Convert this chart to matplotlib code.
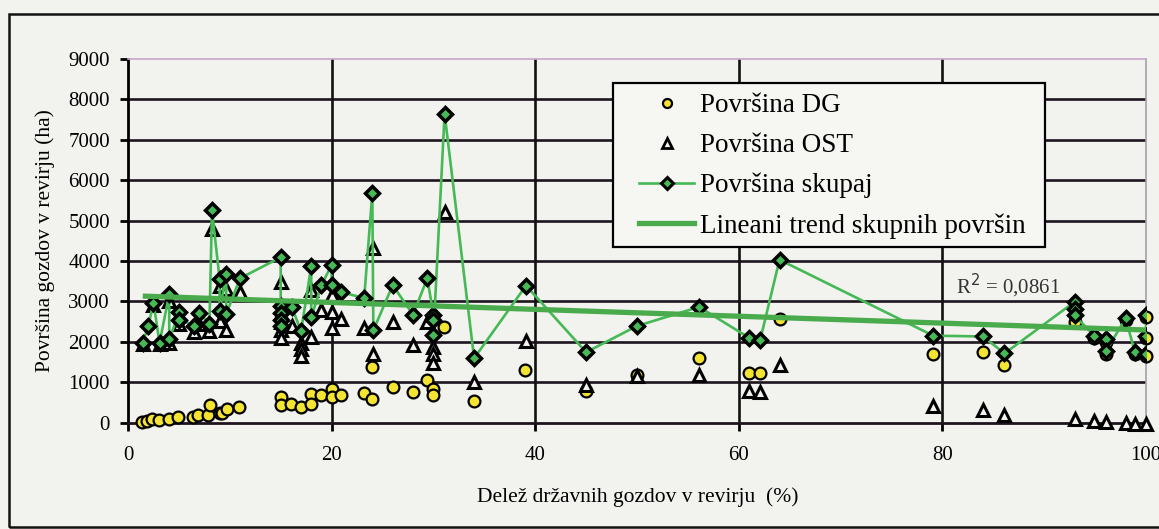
import matplotlib

matplotlib.use("Agg")
import matplotlib.pyplot as plt
from matplotlib.lines import Line2D
from matplotlib.patches import Rectangle

plt.rcParams["font.family"] = ["Liberation Serif", "DejaVu Serif"]

# Delež državnih gozdov (%) / površina skupaj (ha)
skup_x = [1.45, 2.0, 2.5, 3.1, 4.05, 4.05, 5.05, 5.05, 6.5, 7.0, 8.0, 8.25, 9.0, 9.0,
          9.65, 9.65, 11.0, 15.0, 15.0, 15.0, 15.0, 15.0, 16.1, 17.0, 18.0, 18.0, 19.0,
          20.0, 20.0, 20.9, 23.2, 24.0, 24.1, 26.0, 28.0, 29.4, 30.0, 30.0, 30.0, 31.1,
          34.0, 39.1, 45.0, 50.0, 56.1, 61.0, 62.1, 64.0, 79.1, 84.0, 86.1, 93.0, 93.0,
          93.0, 94.9, 96.1, 96.1, 98.0, 98.9, 100.0, 100.0, 100.0]
skup_y = [1975, 2390, 2970, 1975, 3175, 2060, 2730, 2550, 2390, 2720, 2430, 5250, 3550, 2760,
          3675, 2680, 3570, 4090, 2890, 2720, 2550, 2390, 2850, 2260, 3870, 2600, 3400,
          3900, 3400, 3230, 3080, 5680, 2280, 3400, 2670, 3570, 2670, 2530, 2160, 7640,
          1590, 3390, 1740, 2390, 2860, 2100, 2040, 4030, 2150, 2130, 1710, 2990, 2800,
          2650, 2150, 2070, 1780, 2580, 1750, 1690, 2150, 2650]

# Površina DG (ha)
dg_x = [1.35, 1.85, 2.4, 3.0, 4.0, 4.95, 6.4, 6.9, 7.9, 8.1, 9.0, 9.2, 9.7, 10.9,
        15.0, 15.0, 16.0, 17.0, 18.0, 18.0, 19.0, 20.0, 20.0, 20.9, 23.2, 24.0, 24.0,
        26.0, 28.0, 29.4, 30.0, 30.0, 31.0, 34.0, 39.0, 45.0, 50.0, 56.1, 61.0, 62.1,
        64.0, 79.1, 84.0, 86.1, 93.0, 93.0, 94.9, 96.1, 96.1, 98.0, 98.9, 100.0, 100.0,
        100.0]
dg_y = [20, 40, 75, 60, 75, 140, 140, 180, 180, 430, 240, 230, 330, 390,
        640, 430, 470, 380, 700, 460, 670, 830, 625, 690, 730, 1370, 580,
        870, 750, 1060, 840, 670, 2360, 540, 1300, 770, 1180, 1600, 1220, 1220,
        2570, 1700, 1750, 1420, 2500, 2650, 2100, 2000, 1700, 2550, 1700, 2600, 2100,
        1650]

# Površina OST (ha)
ost_x = [1.45, 2.5, 3.1, 4.05, 4.05, 5.05, 6.5, 7.0, 8.0, 8.25, 9.0, 9.65, 9.0, 9.65,
         11.0, 15.0, 15.0, 15.0, 15.0, 15.0, 16.1, 17.0, 17.0, 17.0, 18.0, 18.0, 19.0,
         20.0, 20.0, 20.0, 20.9, 23.2, 24.1, 24.1, 26.0, 28.0, 29.4, 30.0, 30.0, 30.0,
         31.1, 34.0, 39.1, 45.0, 50.0, 56.1, 61.0, 62.1, 64.0, 79.1, 84.0, 86.1, 93.0,
         94.9, 96.1, 98.0, 98.9, 100.0]
ost_y = [1950, 2900, 1950, 3000, 1975, 2450, 2240, 2450, 2270, 4800, 3380, 3300, 2520, 2300,
         3220, 3470, 2700, 2500, 2300, 2100, 2400, 1975, 1810, 1640, 3270, 2120, 2780,
         3150, 2740, 2350, 2570, 2350, 4310, 1700, 2490, 1910, 2490, 1870, 1700, 1480,
         5220, 1000, 2030, 930, 1140, 1180, 780, 750, 1420, 400, 300, 190, 80,
         30, 20, -20, -30, -40]

# linearni trend (odčitano s slike)
trend_x = [1.45, 100.0]
trend_y = [3130, 2290]

GREEN = "#45b955"
TREND = "#4aab4c"
YELLOW = "#f3e332"
BG = "#f2f2ef"

fig = plt.figure(figsize=(11.59, 5.29), dpi=100, facecolor=BG)
ax = fig.add_axes([128 / 1159, 1 - 422.5 / 529, 1018 / 1159, 363.5 / 529], facecolor=BG)

ax.set_xlim(0, 100)
ax.set_ylim(0, 9000)
ax.set_yticks(range(0, 9001, 1000))
ax.set_xticks(range(0, 101, 20))

for v in range(1000, 9000, 1000):
    ax.axhline(v, color="#1e141e", lw=1.9, zorder=1)
for v in range(20, 100, 20):
    ax.axvline(v, color="#111111", lw=1.9, zorder=1)

ax.spines["left"].set_linewidth(2.0)
ax.spines["bottom"].set_linewidth(2.0)
ax.spines["bottom"].set_color("#1e141e")
ax.spines["top"].set_color("#c9a6c6")
ax.spines["top"].set_linewidth(1.2)
ax.spines["right"].set_color("#a4a0aa")
ax.spines["right"].set_linewidth(1.2)

ax.tick_params(axis="y", direction="out", length=6, width=2, pad=7, labelsize=15)
ax.tick_params(axis="x", direction="out", length=6, width=2, pad=11, labelsize=15)

ax.plot(dg_x, dg_y, "o", ms=8.5, mfc=YELLOW, mec="black", mew=1.6, zorder=3, clip_on=False)
ax.plot(ost_x, ost_y, "^", ms=8, mfc="#f4f4f0", mec="black", mew=2.2, zorder=4, clip_on=False)
ax.plot(skup_x, skup_y, "-D", color=GREEN, lw=1.9, ms=7.5, mfc=GREEN, mec="black", mew=2.5,
        zorder=5)
ax.plot(trend_x, trend_y, "-", color=TREND, lw=3.8, zorder=6, solid_capstyle="butt")

ax.text(81.3, 3200, "R$^2$ = 0,0861", fontsize=15, color="#333333", va="baseline", zorder=7)

ax.set_ylabel("Površina gozdov v revirju (ha)", fontsize=15.5)
ax.yaxis.set_label_coords((55 - 128) / 1018, 0.5)
fig.text(638 / 1159, 1 - 497 / 529, "Delež državnih gozdov v revirju  (%)", fontsize=15.5,
         ha="center", va="center")

# okvir legende
ax.add_patch(Rectangle((0.4764, 0.4828), 0.4244, 0.4512, transform=ax.transAxes,
                       facecolor="#f6f6f3", edgecolor="black", lw=1.6, zorder=8))
handles = [
    Line2D([], [], ls="none", marker="o", ms=6.5, mfc=YELLOW, mec="black", mew=1.6),
    Line2D([], [], ls="none", marker="^", ms=6.5, mfc="#f4f4f0", mec="black", mew=2.0),
    Line2D([], [], color=GREEN, lw=1.9, marker="D", ms=6, mfc=GREEN, mec="black", mew=2.2),
    Line2D([], [], color=TREND, lw=3.8),
]
labels = ["Površina DG", "Površina OST", "Površina skupaj", "Lineani trend skupnih površin"]
leg = ax.legend(handles, labels, loc="upper left", bbox_to_anchor=(0.502, 0.906),
                frameon=False, fontsize=19.5, handlelength=2.04, handletextpad=0.22,
                labelspacing=0.55, borderpad=0, borderaxespad=0)
leg.set_zorder(9)

# zunanji okvir slike
fig.patches.append(Rectangle((9 / 1159, 2 / 529), 1.2, 1 - 13.5 / 529 - 2 / 529,
                             transform=fig.transFigure, fill=False, edgecolor="#111111",
                             lw=1.8, clip_on=False))

fig.savefig("out.png", dpi=100, facecolor=BG)
